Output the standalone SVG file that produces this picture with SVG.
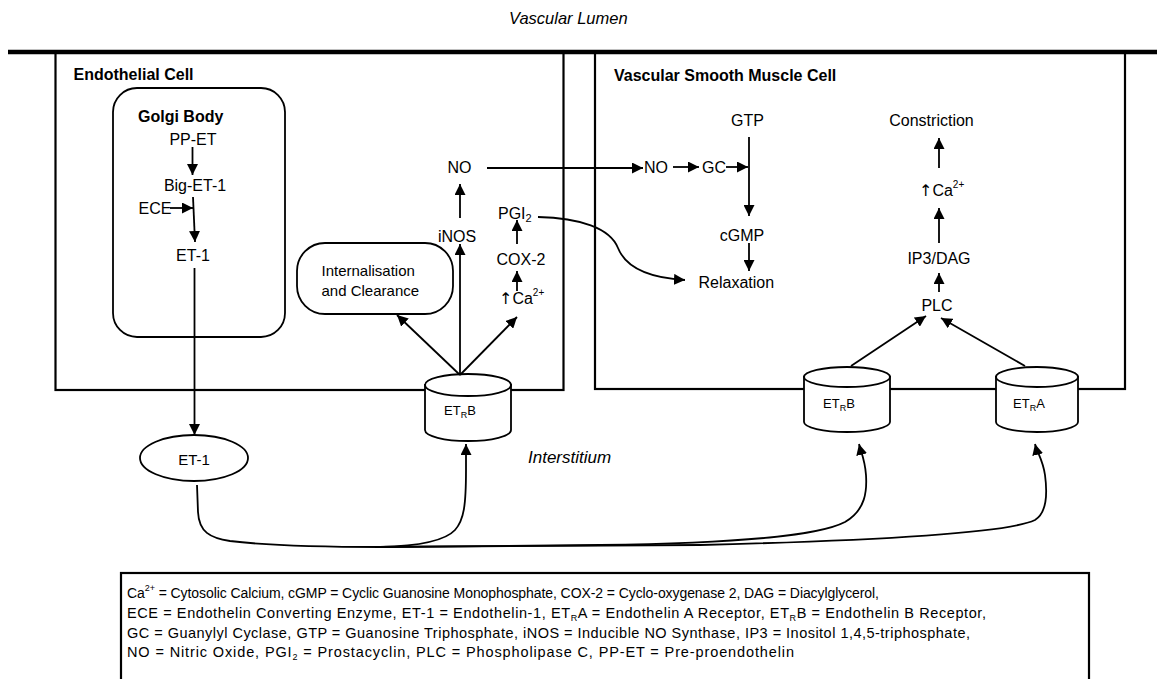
<svg xmlns="http://www.w3.org/2000/svg" width="1157" height="679" viewBox="0 0 1157 679">
<defs>
<style>
.t{font-family:"Liberation Sans",Arial,sans-serif;font-size:16px;fill:#000}
.b{font-weight:bold}
.i{font-style:italic}
.m{text-anchor:middle}
.s15{font-size:15px}
.s13{font-size:13px}
.lg{font-size:14.5px}
.lg1{font-size:14px}
.up{font-family:"DejaVu Sans",sans-serif}
.ln{stroke:#000;stroke-width:1.8;fill:none}
.ar{stroke:#000;stroke-width:1.8;fill:none;marker-end:url(#ah)}
.box{stroke:#000;stroke-width:2.2;fill:none}
.cyl{stroke:#000;stroke-width:1.8;fill:#fff}
</style>
<marker id="ah" markerWidth="12" markerHeight="11" refX="11" refY="5.5" orient="auto" markerUnits="userSpaceOnUse">
<path d="M0,0 L11,5.5 L0,11 Z" fill="#000"/>
</marker>
</defs>
<rect width="1157" height="679" fill="#fff"/>

<text class="t i" x="509" y="24" style="font-size:16.5px">Vascular Lumen</text>
<line x1="8" y1="52" x2="1157" y2="52" stroke="#000" stroke-width="4.5"/>

<g id="endothelial-cell">
<rect class="box" x="55.5" y="52" width="508" height="338"/>
<text class="t b" x="73.5" y="80">Endothelial Cell</text>
</g>
<g id="vsmc">
<rect class="box" x="595" y="52" width="530" height="337"/>
<text class="t b" x="614" y="81">Vascular Smooth Muscle Cell</text>
</g>

<g id="golgi">
<rect class="ln" x="113" y="88" width="172" height="249" rx="24"/>
<text class="t b" x="138" y="122">Golgi Body</text>
</g>
<g id="pp-et"><text class="t m" x="193" y="145">PP-ET</text></g>
<g id="big-et-1"><text class="t m" x="195" y="191">Big-ET-1</text></g>
<g id="ece"><text class="t" x="138.5" y="214">ECE</text></g>
<g id="et-1-golgi"><text class="t m" x="193" y="261">ET-1</text></g>

<g id="internalisation">
<rect class="ln" x="297" y="243" width="156" height="71" rx="28"/>
<text class="t s15" x="321.5" y="276">Internalisation</text>
<text class="t s15" x="321.5" y="296">and Clearance</text>
</g>
<g id="no-ec"><text class="t m" x="459.5" y="173">NO</text></g>
<g id="inos"><text class="t m" x="457" y="242">iNOS</text></g>
<g id="pgi2"><text class="t" x="498" y="219">PGI<tspan font-size="11" dy="3">2</tspan></text></g>
<g id="cox2"><text class="t m" x="521" y="265">COX-2</text></g>
<g id="ca-ec"><text class="t" x="499" y="304"><tspan class="up">↑</tspan>Ca<tspan font-size="10" dy="-8">2+</tspan></text></g>

<g id="gtp"><text class="t m" x="747.5" y="126">GTP</text></g>
<g id="no-vsmc"><text class="t" x="644" y="173">NO</text></g>
<g id="gc"><text class="t" x="702" y="173">GC</text></g>
<g id="cgmp"><text class="t m" x="742" y="241">cGMP</text></g>
<g id="relaxation"><text class="t" x="698.5" y="288">Relaxation</text></g>
<g id="constriction"><text class="t m" x="931.5" y="126">Constriction</text></g>
<g id="ca-vsmc"><text class="t" x="919" y="196"><tspan class="up">↑</tspan>Ca<tspan font-size="10" dy="-8">2+</tspan></text></g>
<g id="ip3dag"><text class="t m" x="939" y="264">IP3/DAG</text></g>
<g id="plc"><text class="t m" x="937" y="311">PLC</text></g>

<g id="et-1">
<ellipse class="ln" cx="194" cy="458" rx="54" ry="23"/>
<text class="t m s15" x="194" y="465">ET-1</text>
</g>

<g id="etrb-ec">
<path class="cyl" d="M425,385 L425,430 A43,11 0 0 0 511,430 L511,385 Z"/>
<ellipse class="cyl" cx="468" cy="385" rx="43" ry="11"/>
<text class="t s13" x="444" y="415">ET<tspan font-size="9" dy="3">R</tspan><tspan dy="-3">B</tspan></text>
</g>
<g id="etrb-vsmc">
<path class="cyl" d="M804,377 L804,422 A43,10 0 0 0 890,422 L890,377 Z"/>
<ellipse class="cyl" cx="847" cy="377" rx="43" ry="10"/>
<text class="t s13" x="823" y="408">ET<tspan font-size="9" dy="3">R</tspan><tspan dy="-3">B</tspan></text>
</g>
<g id="etra-vsmc">
<path class="cyl" d="M996,377 L996,422 A41,10 0 0 0 1078,422 L1078,377 Z"/>
<ellipse class="cyl" cx="1037" cy="377" rx="41" ry="10"/>
<text class="t s13" x="1013" y="408">ET<tspan font-size="9" dy="3">R</tspan><tspan dy="-3">A</tspan></text>
</g>

<text class="t i" x="528" y="463" style="font-size:17px">Interstitium</text>

<g id="connectors">
<line class="ar" x1="192.5" y1="147" x2="192.5" y2="175"/>
<line class="ar" x1="170" y1="208" x2="193" y2="208"/>
<line class="ar" x1="193" y1="197" x2="195" y2="242"/>
<line class="ar" x1="194.5" y1="268" x2="194.5" y2="435"/>
<line class="ar" x1="460" y1="375" x2="397" y2="315"/>
<line class="ar" x1="460" y1="375" x2="460" y2="244"/>
<line class="ar" x1="460" y1="375" x2="517" y2="317"/>
<line class="ar" x1="460" y1="218" x2="460" y2="184"/>
<line class="ar" x1="517" y1="291" x2="517" y2="271"/>
<line class="ar" x1="517" y1="244" x2="517" y2="220"/>
<line class="ar" x1="487" y1="168" x2="643" y2="168"/>
<line class="ar" x1="673" y1="167" x2="699" y2="167"/>
<line class="ar" x1="726" y1="167" x2="748" y2="167"/>
<line class="ar" x1="749" y1="137" x2="749" y2="216"/>
<line class="ar" x1="749" y1="243" x2="749" y2="271"/>
<path class="ar" d="M538,217 C580,218 610,228 618,248 C626,268 650,278 685,280"/>
<line class="ar" x1="939" y1="168" x2="939" y2="138"/>
<line class="ar" x1="939" y1="243" x2="939" y2="208"/>
<line class="ar" x1="939" y1="292" x2="939" y2="273"/>
<line class="ar" x1="851" y1="366" x2="926" y2="316"/>
<line class="ar" x1="1025" y1="366" x2="941" y2="318"/>
<path class="ln" d="M197,485 L198,512 C199,532 210,538 230,541 C270,546 330,547 380,547"/>
<path class="ar" d="M380,547 C420,546 445,541 455,530 C464,520 466,505 466,470 L466,444"/>
<path class="ar" d="M380,547 L600,545 C750,543 820,535 845,522 C866,510 867,490 866,475 C865,460 861,452 859,444"/>
<path class="ar" d="M380,547 L700,545 C900,540 1010,532 1035,520 C1048,512 1047,490 1045,475 C1043,460 1037,452 1035,444"/>
</g>

<g id="legend">
<rect class="box" x="121" y="573" width="968" height="130"/>
<text class="t lg1" x="127" y="598" textLength="752" lengthAdjust="spacing">Ca<tspan font-size="9" dy="-7">2+</tspan><tspan dy="7"> = Cytosolic Calcium, cGMP = Cyclic Guanosine Monophosphate, COX-2 = Cyclo-oxygenase 2, DAG = Diacylglycerol,</tspan></text>
<text class="t lg" x="127" y="618" textLength="859" lengthAdjust="spacing">ECE = Endothelin Converting Enzyme, ET-1 = Endothelin-1, ET<tspan font-size="9" dy="3">R</tspan><tspan dy="-3">A = Endothelin A Receptor, ET</tspan><tspan font-size="9" dy="3">R</tspan><tspan dy="-3">B = Endothelin B Receptor,</tspan></text>
<text class="t lg" x="127" y="638" textLength="843" lengthAdjust="spacing">GC = Guanylyl Cyclase, GTP = Guanosine Triphosphate, iNOS = Inducible NO Synthase, IP3 = Inositol 1,4,5-triphosphate,</text>
<text class="t lg" x="127" y="657" textLength="667" lengthAdjust="spacing">NO = Nitric Oxide, PGI<tspan font-size="9" dy="3">2</tspan><tspan dy="-3"> = Prostacyclin, PLC = Phospholipase C, PP-ET = Pre-proendothelin</tspan></text>
</g>
</svg>
